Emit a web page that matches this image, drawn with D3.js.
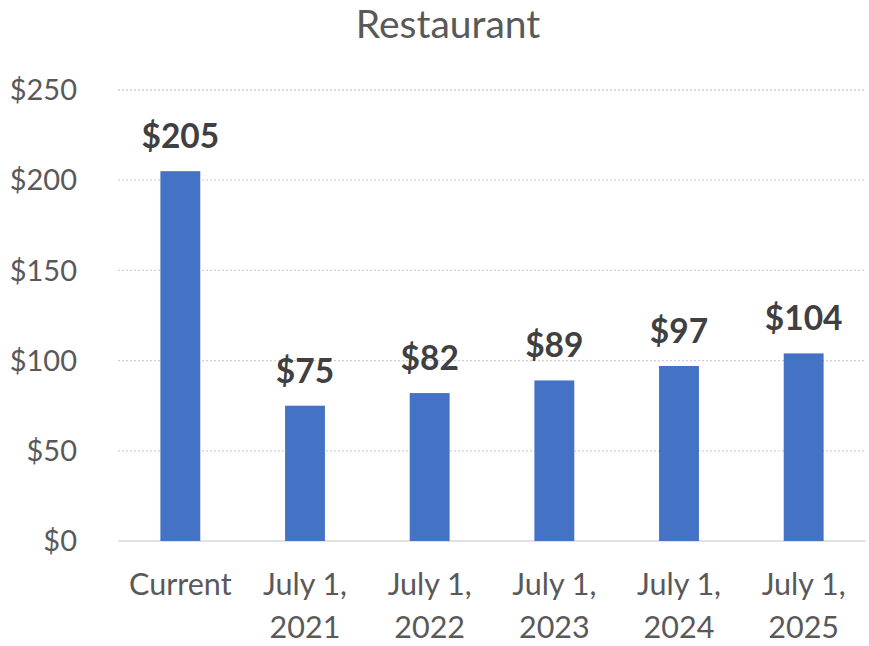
<!DOCTYPE html>
<html>
<head>
<meta charset="utf-8">
<script src="https://cdn.jsdelivr.net/npm/d3@7"></script>
<style>
  body { margin: 0; background: #fff; }
  text { font-family: Lato, sans-serif; }
</style>
</head>
<body>
<svg width="869" height="646"></svg>
<script>
const categories = [["Current"], ["July 1,", "2021"], ["July 1,", "2022"], ["July 1,", "2023"], ["July 1,", "2024"], ["July 1,", "2025"]];
const values = [205, 75, 82, 89, 97, 104];
const yTicks = [0, 50, 100, 150, 200, 250];

const svg = d3.select("svg");
const plotLeft = 118, plotRight = 866, plotTop = 90, plotBottom = 541;

const x = d3.scaleBand()
    .domain(d3.range(categories.length))
    .range([plotLeft, plotRight])
    .paddingInner(0.68)
    .paddingOuter(0.34);

const y = d3.scaleLinear().domain([0, 250]).range([plotBottom, plotTop]);

// gridlines
svg.append("g")
    .selectAll("line")
    .data(yTicks.filter(d => d > 0))
    .enter()
    .append("line")
    .attr("x1", plotLeft).attr("x2", plotRight)
    .attr("y1", d => y(d)).attr("y2", d => y(d))
    .attr("stroke", "#d0d0d0")
    .attr("stroke-width", 1.3)
    .attr("stroke-dasharray", "2,2");

// baseline
svg.append("line")
    .attr("x1", plotLeft).attr("x2", plotRight)
    .attr("y1", y(0)).attr("y2", y(0))
    .attr("stroke", "#d9d9d9")
    .attr("stroke-width", 1.5);

// y labels
svg.append("g")
    .selectAll("text")
    .data(yTicks)
    .enter()
    .append("text")
    .attr("x", 77)
    .attr("y", d => y(d))
    .attr("dy", "0.35em")
    .attr("text-anchor", "end")
    .attr("font-size", 29)
    .attr("fill", "#595959")
    .text(d => "$" + d);

// bars
svg.append("g")
    .selectAll("rect")
    .data(values)
    .enter()
    .append("rect")
    .attr("x", (d, i) => x(i))
    .attr("width", x.bandwidth())
    .attr("y", d => y(d))
    .attr("height", d => y(0) - y(d))
    .attr("fill", "#4472c4");

// data labels
svg.append("g")
    .selectAll("text")
    .data(values)
    .enter()
    .append("text")
    .attr("x", (d, i) => x(i) + x.bandwidth() / 2)
    .attr("y", d => y(d) - 23)
    .attr("text-anchor", "middle")
    .attr("font-size", 33.5)
    .attr("font-weight", "bold")
    .attr("fill", "#404040")
    .text(d => "$" + d);

// category labels
const cat = svg.append("g")
    .selectAll("text")
    .data(categories)
    .enter()
    .append("text")
    .attr("x", (d, i) => x(i) + x.bandwidth() / 2)
    .attr("y", 595)
    .attr("text-anchor", "middle")
    .attr("font-size", 30.5)
    .attr("fill", "#595959");

cat.selectAll("tspan")
    .data(d => d)
    .enter()
    .append("tspan")
    .attr("x", function () { return d3.select(this.parentNode).attr("x"); })
    .attr("dy", (d, i) => i === 0 ? 0 : 43)
    .text(d => d);

// title
svg.append("text")
    .attr("x", 448)
    .attr("y", 38)
    .attr("text-anchor", "middle")
    .attr("font-size", 39)
    .attr("fill", "#595959")
    .text("Restaurant");
</script>
</body>
</html>
